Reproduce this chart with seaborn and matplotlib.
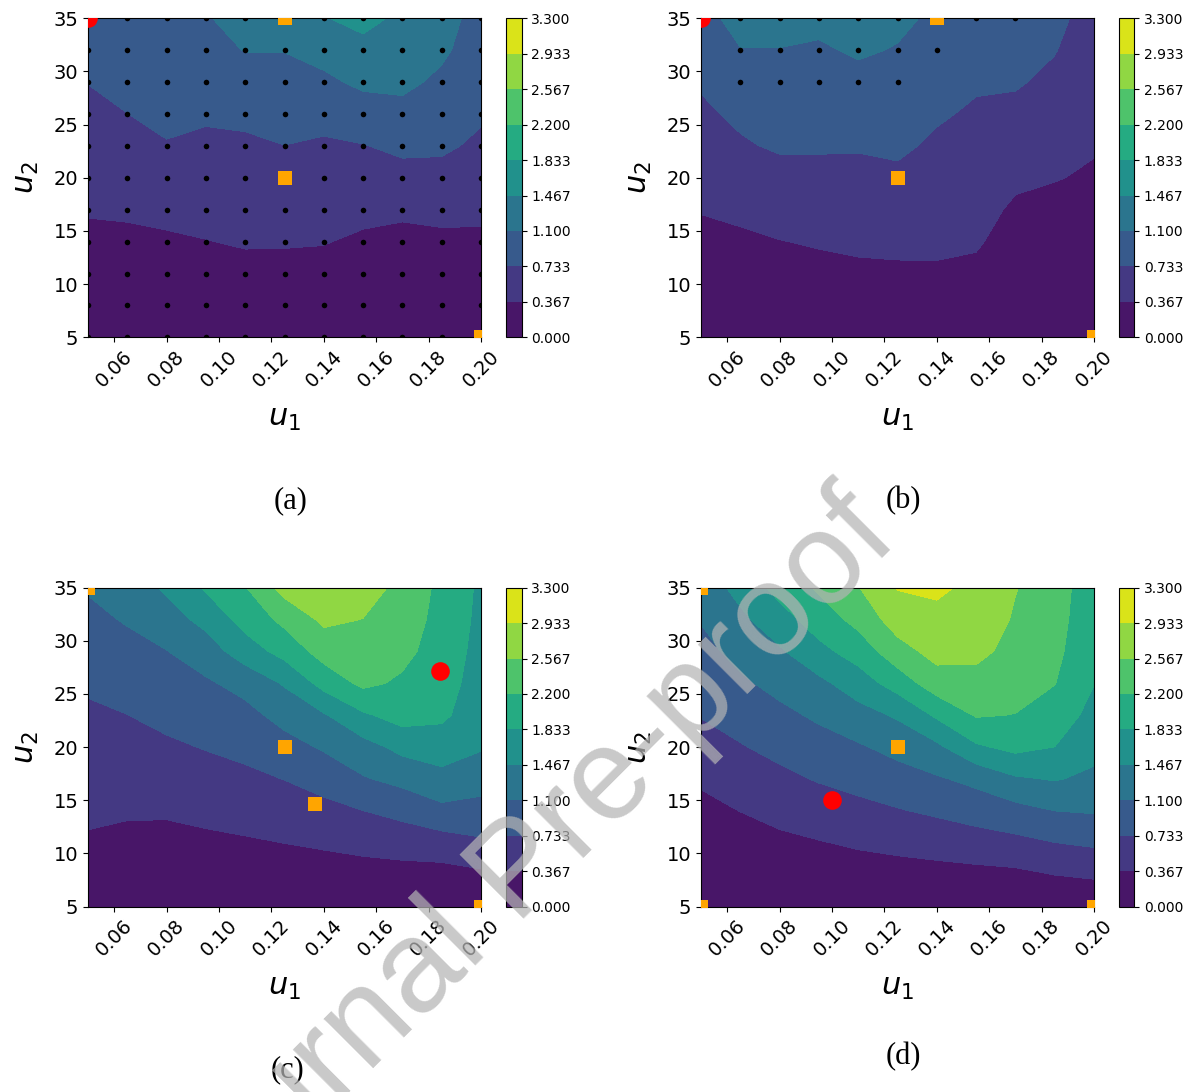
import numpy as np
import matplotlib
matplotlib.use("Agg")
import matplotlib.pyplot as plt
import seaborn as sns

# sample grid
u1 = [0.05, 0.065, 0.08, 0.095, 0.11, 0.125, 0.14, 0.155, 0.17, 0.185, 0.20]
u2 = [5, 8, 11, 14, 17, 20, 23, 26, 29, 32, 35]

# rows = u2 (5 -> 35), columns = u1 (0.05 -> 0.20)
z_a = [
    [0.05, 0.06, 0.06, 0.07, 0.08, 0.08, 0.08, 0.07, 0.06, 0.06, 0.06],
    [0.10, 0.12, 0.13, 0.14, 0.17, 0.17, 0.16, 0.13, 0.12, 0.12, 0.13],
    [0.18, 0.20, 0.22, 0.25, 0.29, 0.28, 0.27, 0.22, 0.19, 0.20, 0.21],
    [0.30, 0.30, 0.32, 0.36, 0.39, 0.39, 0.38, 0.32, 0.28, 0.30, 0.31],
    [0.39, 0.41, 0.45, 0.45, 0.49, 0.50, 0.49, 0.44, 0.42, 0.45, 0.43],
    [0.48, 0.52, 0.56, 0.55, 0.58, 0.61, 0.59, 0.58, 0.61, 0.64, 0.55],
    [0.57, 0.62, 0.71, 0.66, 0.68, 0.73, 0.69, 0.72, 0.81, 0.78, 0.68],
    [0.65, 0.73, 0.82, 0.78, 0.80, 0.85, 0.83, 0.93, 0.99, 0.90, 0.77],
    [0.74, 0.84, 0.92, 0.90, 0.95, 0.97, 1.03, 1.17, 1.18, 1.03, 0.85],
    [0.82, 0.94, 0.99, 1.00, 1.11, 1.11, 1.22, 1.37, 1.30, 1.16, 0.92],
    [0.90, 1.03, 1.05, 1.08, 1.20, 1.25, 1.45, 1.56, 1.40, 1.22, 0.98],
]
z_b = [
    [0.06, 0.06, 0.07, 0.08, 0.08, 0.08, 0.08, 0.08, 0.05, 0.04, 0.04],
    [0.12, 0.13, 0.14, 0.17, 0.18, 0.19, 0.19, 0.17, 0.10, 0.08, 0.08],
    [0.20, 0.22, 0.25, 0.29, 0.31, 0.32, 0.33, 0.30, 0.16, 0.14, 0.14],
    [0.29, 0.32, 0.36, 0.39, 0.42, 0.43, 0.42, 0.40, 0.24, 0.20, 0.20],
    [0.38, 0.42, 0.47, 0.51, 0.53, 0.55, 0.50, 0.47, 0.32, 0.28, 0.27],
    [0.47, 0.55, 0.60, 0.63, 0.64, 0.67, 0.58, 0.55, 0.42, 0.38, 0.33],
    [0.57, 0.69, 0.78, 0.77, 0.76, 0.79, 0.68, 0.62, 0.52, 0.47, 0.39],
    [0.67, 0.80, 0.88, 0.88, 0.89, 0.90, 0.77, 0.69, 0.64, 0.56, 0.43],
    [0.77, 0.94, 0.98, 0.97, 1.01, 0.99, 0.86, 0.77, 0.77, 0.65, 0.48],
    [0.88, 1.09, 1.09, 1.06, 1.14, 1.08, 0.95, 0.85, 0.88, 0.75, 0.52],
    [1.00, 1.20, 1.22, 1.18, 1.26, 1.17, 1.04, 0.93, 0.97, 0.84, 0.56],
]
z_c = [
    [0.12, 0.10, 0.09, 0.09, 0.08, 0.08, 0.08, 0.08, 0.07, 0.07, 0.08],
    [0.22, 0.19, 0.18, 0.18, 0.17, 0.19, 0.22, 0.24, 0.24, 0.24, 0.30],
    [0.33, 0.29, 0.28, 0.30, 0.33, 0.37, 0.41, 0.46, 0.52, 0.57, 0.68],
    [0.42, 0.40, 0.40, 0.45, 0.50, 0.55, 0.63, 0.73, 0.84, 1.01, 0.98],
    [0.51, 0.51, 0.54, 0.60, 0.66, 0.74, 0.87, 1.07, 1.20, 1.35, 1.24],
    [0.59, 0.62, 0.68, 0.75, 0.82, 0.97, 1.14, 1.33, 1.57, 1.65, 1.50],
    [0.68, 0.73, 0.82, 0.90, 0.99, 1.22, 1.43, 1.78, 1.98, 1.90, 1.62],
    [0.78, 0.86, 0.96, 1.05, 1.22, 1.50, 1.96, 2.28, 2.14, 1.98, 1.68],
    [0.90, 0.99, 1.09, 1.29, 1.65, 1.96, 2.35, 2.42, 2.30, 2.03, 1.72],
    [1.01, 1.13, 1.31, 1.57, 1.97, 2.29, 2.64, 2.56, 2.40, 2.07, 1.75],
    [1.13, 1.27, 1.52, 1.88, 2.18, 2.70, 2.85, 2.70, 2.48, 2.10, 1.77],
]
z_d = [
    [0.07, 0.08, 0.08, 0.08, 0.09, 0.09, 0.09, 0.09, 0.09, 0.10, 0.11],
    [0.14, 0.16, 0.18, 0.19, 0.21, 0.23, 0.25, 0.27, 0.29, 0.37, 0.41],
    [0.22, 0.25, 0.30, 0.35, 0.41, 0.46, 0.51, 0.57, 0.64, 0.73, 0.79],
    [0.30, 0.37, 0.46, 0.55, 0.63, 0.71, 0.79, 0.89, 0.98, 1.10, 1.13],
    [0.40, 0.54, 0.65, 0.76, 0.85, 0.95, 1.06, 1.19, 1.42, 1.49, 1.39],
    [0.58, 0.71, 0.83, 0.95, 1.06, 1.21, 1.39, 1.78, 1.93, 1.83, 1.58],
    [0.75, 0.87, 1.01, 1.16, 1.33, 1.51, 1.89, 2.23, 2.19, 2.03, 1.72],
    [0.87, 1.04, 1.21, 1.38, 1.65, 1.99, 2.40, 2.45, 2.36, 2.21, 1.84],
    [0.99, 1.21, 1.42, 1.73, 1.99, 2.42, 2.69, 2.65, 2.46, 2.30, 1.88],
    [1.12, 1.39, 1.68, 2.01, 2.31, 2.74, 2.86, 2.78, 2.53, 2.36, 1.91],
    [1.26, 1.58, 1.96, 2.25, 2.55, 2.95, 2.98, 2.87, 2.58, 2.40, 1.93],
]

# evaluated points (black dots) in panel (b)
b_dots_u1 = [0.065, 0.08, 0.095, 0.11, 0.125, 0.155, 0.17,
             0.065, 0.08, 0.095, 0.11, 0.125, 0.14,
             0.065, 0.08, 0.095, 0.11, 0.125]
b_dots_u2 = [35, 35, 35, 35, 35, 35, 35,
             32, 32, 32, 32, 32, 32,
             29, 29, 29, 29, 29]

# orange squares and red points
sq_a = ([0.125, 0.125, 0.20], [35, 20, 5])
red_a = ([0.05], [35])
sq_b = ([0.14, 0.125, 0.20], [35, 20, 5])
red_b = ([0.05], [35])
sq_c = ([0.05, 0.125, 0.1365, 0.20], [35, 20, 14.6, 5])
red_c = ([0.1845], [27.2])
sq_d = ([0.05, 0.05, 0.125, 0.20], [35, 5, 20, 5])
red_d = ([0.10], [15])

grid_u1 = [a for b in u2 for a in u1]
grid_u2 = [b for b in u2 for a in u1]

levels = np.linspace(0, 3.3, 10)
cmap = sns.color_palette("viridis", as_cmap=True)

sns.set_style("ticks", {"axes.edgecolor": "black", "xtick.color": "black",
                        "ytick.color": "black", "text.color": "black",
                        "axes.labelcolor": "black"})
plt.rcParams["font.family"] = ["DejaVu Sans"]
plt.rcParams["xtick.labelsize"] = 14
plt.rcParams["ytick.labelsize"] = 14

W, H = 1191, 1092
fig = plt.figure(figsize=(W / 100, H / 100), dpi=100)


def box(x0, x1, y0, y1):
    return [x0 / W, 1 - y1 / H, (x1 - x0) / W, (y1 - y0) / H]


panels = [
    (z_a, box(88, 481, 18.3, 337.3), box(506, 521.5, 18.3, 337.3),
     (grid_u1, grid_u2), sq_a, red_a, "(a)", (290.5, 501)),
    (z_b, box(701, 1094, 18.3, 337.3), box(1119, 1134, 18.3, 337.3),
     (b_dots_u1, b_dots_u2), sq_b, red_b, "(b)", (903, 501)),
    (z_c, box(88, 481, 587.7, 906.5), box(506, 521.5, 587.7, 906.5),
     None, sq_c, red_c, "(c)", (288, 1070)),
    (z_d, box(701, 1094, 587.7, 906.5), box(1119, 1134, 587.7, 906.5),
     None, sq_d, red_d, "(d)", (903, 1057)),
]

for z, axpos, caxpos, dots, sq, red, lab, labxy in panels:
    ax = fig.add_axes(axpos)
    cax = fig.add_axes(caxpos)
    cs = ax.contourf(u1, u2, np.array(z), levels=levels, cmap=cmap)
    if dots is not None:
        sns.scatterplot(x=dots[0], y=dots[1], ax=ax, color="black", s=16,
                        linewidth=0, zorder=3)
    sns.scatterplot(x=sq[0], y=sq[1], ax=ax, marker="s", color="orange",
                    s=112, linewidth=0, zorder=4)
    sns.scatterplot(x=red[0], y=red[1], ax=ax, marker="o", color="red",
                    s=180, linewidth=0, zorder=5)
    ax.set_xlim(0.05, 0.20)
    ax.set_ylim(5, 35)
    ax.set_xticks([0.06, 0.08, 0.10, 0.12, 0.14, 0.16, 0.18, 0.20])
    ax.set_xticklabels(["0.06", "0.08", "0.10", "0.12", "0.14", "0.16", "0.18", "0.20"],
                       rotation=45)
    ax.set_yticks([5, 10, 15, 20, 25, 30, 35])
    ax.set_xlabel("$u_1$", fontsize=22, labelpad=9)
    ax.set_ylabel("$u_2$", fontsize=22, labelpad=9)
    for sp in ax.spines.values():
        sp.set_visible(True)
        sp.set_linewidth(0.8)

    cb = fig.colorbar(cs, cax=cax, ticks=levels, format="%.3f")
    cb.ax.tick_params(labelsize=10)
    cb.outline.set_linewidth(0.8)

    fig.text(labxy[0] / W, 1 - labxy[1] / H, lab, fontsize=22,
             family="Liberation Serif", ha="center", va="center")

# watermark
fig.text(544 / W, 1 - 897 / H, "Journal Pre-proof", rotation=45,
         rotation_mode="anchor", fontsize=94, family="Liberation Sans",
         color="#b4b4b4", alpha=0.72, ha="center", va="baseline", zorder=10)

fig.savefig("out.png", dpi=100)
